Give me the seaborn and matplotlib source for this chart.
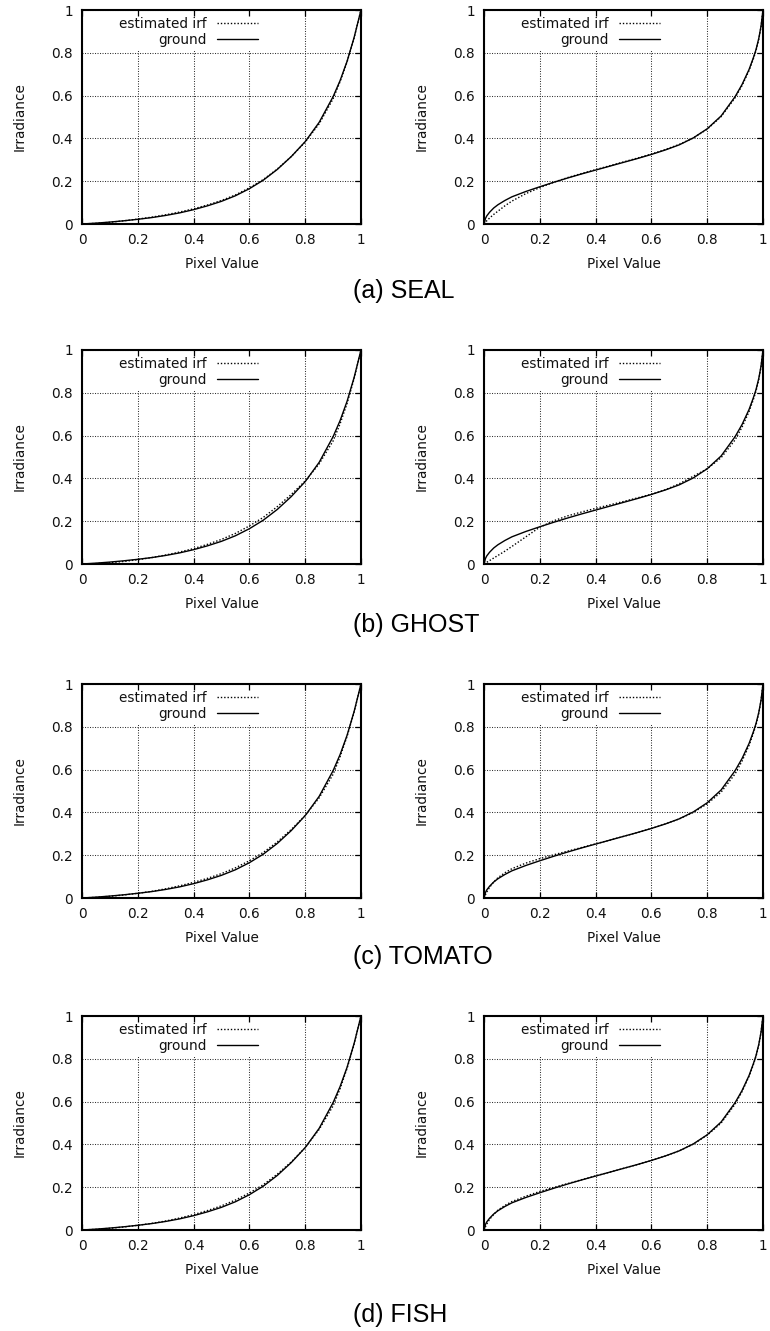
import numpy as np
import pandas as pd
import matplotlib
matplotlib.use("Agg")
import matplotlib.pyplot as plt
import seaborn as sns

# ---------------- data ----------------
datasets = ["SEAL", "GHOST", "TOMATO", "FISH"]
panel_letters = ["(a)", "(b)", "(c)", "(d)"]
tick_values = [0, 0.2, 0.4, 0.6, 0.8, 1.0]
tick_labels = ["0", "0.2", "0.4", "0.6", "0.8", "1"]
series_names = ["estimated irf", "ground"]

# left column (convex response)
x_left = [0.0, 0.05, 0.1, 0.15, 0.2, 0.25, 0.3, 0.35, 0.4, 0.45, 0.5, 0.55,
          0.6, 0.65, 0.7, 0.75, 0.8, 0.85, 0.9, 0.925, 0.95, 0.975, 1.0]
ground_left = [0.0, 0.004, 0.009, 0.015, 0.022, 0.030, 0.040, 0.052, 0.067, 0.085, 0.106, 0.132,
               0.165, 0.205, 0.255, 0.315, 0.385, 0.475, 0.595, 0.67, 0.76, 0.87, 1.0]
est_left_seal = [0.0, 0.003, 0.008, 0.015, 0.023, 0.032, 0.043, 0.056, 0.071, 0.089, 0.110, 0.136,
                 0.169, 0.208, 0.257, 0.315, 0.383, 0.468, 0.585, 0.665, 0.757, 0.868, 1.0]
est_left_ghost = [0.0, 0.002, 0.006, 0.012, 0.020, 0.030, 0.042, 0.056, 0.072, 0.092, 0.115, 0.143,
                  0.178, 0.218, 0.268, 0.325, 0.388, 0.468, 0.575, 0.655, 0.750, 0.865, 1.0]
est_left_tomato = [0.0, 0.003, 0.008, 0.014, 0.022, 0.031, 0.043, 0.057, 0.073, 0.092, 0.114, 0.141,
                   0.174, 0.213, 0.262, 0.320, 0.386, 0.468, 0.578, 0.660, 0.755, 0.867, 1.0]
est_left_fish = [0.0, 0.003, 0.008, 0.014, 0.022, 0.031, 0.042, 0.056, 0.072, 0.091, 0.113, 0.140,
                 0.173, 0.212, 0.261, 0.318, 0.385, 0.470, 0.580, 0.660, 0.755, 0.867, 1.0]

# right column (S-shaped response)
x_right = [0.0, 0.005, 0.01, 0.02, 0.035, 0.05, 0.075, 0.1, 0.15, 0.2, 0.25, 0.3, 0.35, 0.4,
           0.45, 0.5, 0.55, 0.6, 0.65, 0.7, 0.75, 0.8, 0.85, 0.9, 0.925, 0.95, 0.965, 0.975,
           0.985, 0.993, 1.0]
ground_right = [0.0, 0.025, 0.038, 0.055, 0.075, 0.090, 0.110, 0.127, 0.152, 0.174, 0.195, 0.215,
                0.234, 0.252, 0.270, 0.288, 0.306, 0.325, 0.346, 0.370, 0.402, 0.445, 0.505, 0.595,
                0.652, 0.722, 0.775, 0.815, 0.868, 0.925, 1.0]
est_right_seal = [0.0, 0.008, 0.015, 0.028, 0.045, 0.060, 0.085, 0.107, 0.142, 0.170, 0.195, 0.217,
                  0.236, 0.254, 0.272, 0.290, 0.308, 0.327, 0.348, 0.372, 0.402, 0.443, 0.502, 0.590,
                  0.647, 0.717, 0.770, 0.810, 0.864, 0.922, 1.0]
est_right_ghost = [0.0, 0.004, 0.008, 0.016, 0.028, 0.040, 0.060, 0.082, 0.127, 0.172, 0.202, 0.225,
                   0.243, 0.260, 0.276, 0.292, 0.309, 0.326, 0.347, 0.375, 0.410, 0.445, 0.497, 0.580,
                   0.640, 0.712, 0.767, 0.808, 0.863, 0.922, 1.0]
est_right_tomato = [0.0, 0.015, 0.028, 0.050, 0.075, 0.095, 0.118, 0.137, 0.163, 0.184, 0.202, 0.219,
                    0.236, 0.253, 0.270, 0.288, 0.306, 0.325, 0.346, 0.370, 0.400, 0.440, 0.495, 0.580,
                    0.640, 0.713, 0.768, 0.809, 0.864, 0.922, 1.0]
est_right_fish = [0.0, 0.015, 0.028, 0.050, 0.073, 0.093, 0.115, 0.133, 0.158, 0.180, 0.199, 0.217,
                  0.235, 0.253, 0.270, 0.288, 0.306, 0.325, 0.346, 0.370, 0.401, 0.443, 0.500, 0.588,
                  0.647, 0.718, 0.771, 0.811, 0.865, 0.923, 1.0]

est_left = [est_left_seal, est_left_ghost, est_left_tomato, est_left_fish]
est_right = [est_right_seal, est_right_ghost, est_right_tomato, est_right_fish]

# ---------------- style ----------------
sns.set_theme(style="white")
plt.rcParams["font.family"] = ["DejaVu Sans"]
plt.rcParams["axes.facecolor"] = "white"
plt.rcParams["text.color"] = "black"

W, H = 770, 1331
fig = plt.figure(figsize=(W / 100, H / 100), dpi=100)

row_tops = [10, 350, 684, 1016]
row_h = 214
col_x0 = [82, 484]
col_w = 279
caption_baselines = [298, 632, 964, 1322]
caption_x = 353

dotted = (0, (1, 1.4))
FS = 9.8


def style_axes(ax):
    ax.set_xlim(0, 1)
    ax.set_ylim(0, 1)
    ax.set_xticks(tick_values)
    ax.set_xticklabels(tick_labels)
    ax.set_yticks(tick_values)
    ax.set_yticklabels(tick_labels)
    ax.tick_params(direction="in", length=4, width=0.9, top=True, right=True,
                   labelsize=FS, pad=6.5, colors="black", labelcolor="#111111")
    ax.set_axisbelow(True)
    ax.grid(True, color="0.2", linestyle=dotted, linewidth=0.75)
    for s in ax.spines.values():
        s.set_visible(True)
        s.set_color("black")
        s.set_linewidth(1.5)
    ax.set_xlabel("Pixel Value", fontsize=FS, color="#111111")
    ax.set_ylabel("Irradiance", fontsize=FS, color="#111111")
    ax.xaxis.set_label_coords(0.5, -0.155)
    ax.yaxis.set_label_coords(-0.2, 0.5)
    bp = 0.3
    pad_px = bp * FS * 100 / 72
    leg = ax.legend(loc="upper right",
                    bbox_to_anchor=(0.63 + pad_px / col_w, 0.967 + pad_px / row_h),
                    frameon=True, fancybox=False, framealpha=1.0,
                    facecolor="white", edgecolor="none",
                    markerfirst=False, handlelength=3.0, handletextpad=0.75,
                    labelspacing=0.15, borderpad=bp, borderaxespad=0, fontsize=FS)
    for t in leg.get_texts():
        t.set_color("#111111")
    # top ticks drawn above the legend box
    top = ax.twiny()
    top.set_xlim(0, 1)
    top.set_xticks(tick_values)
    top.tick_params(axis="x", direction="in", length=4, width=0.9, top=True,
                    bottom=False, labeltop=False, labelbottom=False, colors="black")
    top.grid(False)
    for s in top.spines.values():
        s.set_visible(False)
    top.patch.set_visible(False)


for r in range(4):
    for c in range(2):
        x0 = col_x0[c]
        ax = fig.add_axes([x0 / W, 1 - (row_tops[r] + row_h) / H, col_w / W, row_h / H])
        if c == 0:
            xs, gt, est = x_left, ground_left, est_left[r]
        else:
            xs, gt, est = x_right, ground_right, est_right[r]
        df = pd.DataFrame({"x": xs, "est": est, "gt": gt})
        sns.lineplot(data=df, x="x", y="est", ax=ax, color="black", linewidth=1.0,
                     linestyle=dotted, label=series_names[0], sort=False)
        sns.lineplot(data=df, x="x", y="gt", ax=ax, color="black", linewidth=1.0,
                     label=series_names[1], sort=False)
        style_axes(ax)
    fig.text(caption_x / W, 1 - caption_baselines[r] / H,
             f"{panel_letters[r]} {datasets[r]}", fontsize=18, color="black",
             family=["Liberation Sans", "DejaVu Sans"], ha="left", va="baseline")

fig.savefig("out.png", dpi=100)
